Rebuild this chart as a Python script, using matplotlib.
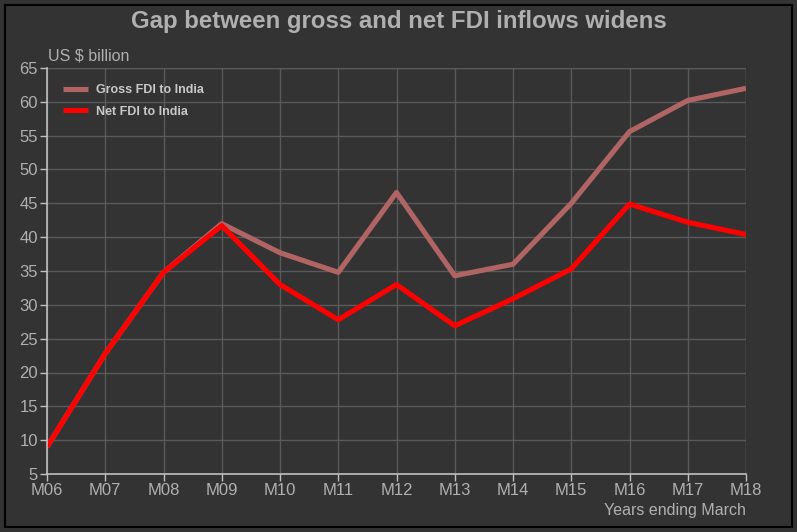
import numpy as np
import matplotlib.pyplot as plt
from matplotlib.patches import Rectangle

plt.rcParams['font.family'] = ['Liberation Sans', 'DejaVu Sans']

years = ['M06', 'M07', 'M08', 'M09', 'M10', 'M11', 'M12',
         'M13', 'M14', 'M15', 'M16', 'M17', 'M18']
gross_fdi = [9.0, 22.8, 34.8, 42.0, 37.7, 34.8, 46.6,
             34.3, 36.0, 45.0, 55.6, 60.2, 62.0]
net_fdi = [9.0, 22.8, 34.8, 41.7, 33.0, 27.8, 33.0,
           26.9, 30.9, 35.3, 44.9, 42.2, 40.4]
y_ticks = list(range(5, 66, 5))

BG = '#333333'
TXT = '#b0b0b0'

fig = plt.figure(figsize=(7.97, 5.32), dpi=100, facecolor=BG)
fig.patches.append(Rectangle((5 / 797, 5 / 532), 787 / 797, 522 / 532,
                             transform=fig.transFigure, fill=False,
                             edgecolor='black', linewidth=1.5))
ax = fig.add_axes([47 / 797, 58 / 532, 699 / 797, 406 / 532])
ax.set_facecolor(BG)

x = np.arange(len(years))
ax.plot(x, gross_fdi, color='#b06464', linewidth=3.7,
        label='Gross FDI to India', solid_capstyle='butt')
ax.plot(x, net_fdi, color='#ff0000', linewidth=3.7,
        label='Net FDI to India', solid_capstyle='butt')

ax.set_xlim(0, len(years) - 1)
ax.set_ylim(5, 65)
ax.set_xticks(x)
ax.set_xticklabels(years)
ax.set_yticks(y_ticks)

ax.grid(True, color='#5a5a5a', linewidth=1)
ax.set_axisbelow(True)
for s in ['top', 'right']:
    ax.spines[s].set_visible(False)
for s in ['left', 'bottom']:
    ax.spines[s].set_color('#c0c0c0')
    ax.spines[s].set_linewidth(1.2)
# top/right edges drawn as grid-coloured lines
ax.axhline(65, color='#5a5a5a', linewidth=1, zorder=0.5)
ax.axvline(len(years) - 1, color='#5a5a5a', linewidth=1, zorder=0.5)

ax.tick_params(colors='#c0c0c0', labelcolor=TXT, labelsize=12,
               length=5, width=1, pad=1.5)

fig.text(0.5, 0.96, 'Gap between gross and net FDI inflows widens',
         ha='center', va='center', fontsize=17.3, fontweight='bold',
         color=TXT)
fig.text(48 / 797, 1 - 56 / 532, 'US $ billion', ha='left', va='center',
         fontsize=11.5, color=TXT)
fig.text(746 / 797, 1 - 510 / 532, 'Years ending March', ha='right',
         va='center', fontsize=11.5, color=TXT)

leg = ax.legend(loc='upper left', frameon=False, fontsize=9,
                handlelength=2.0, handleheight=0.6, labelspacing=0.75,
                borderaxespad=0.9, handletextpad=0.6)
for t in leg.get_texts():
    t.set_color('#c8c8c8')
    t.set_fontweight('bold')

fig.savefig('out.png', dpi=100, facecolor=BG)
